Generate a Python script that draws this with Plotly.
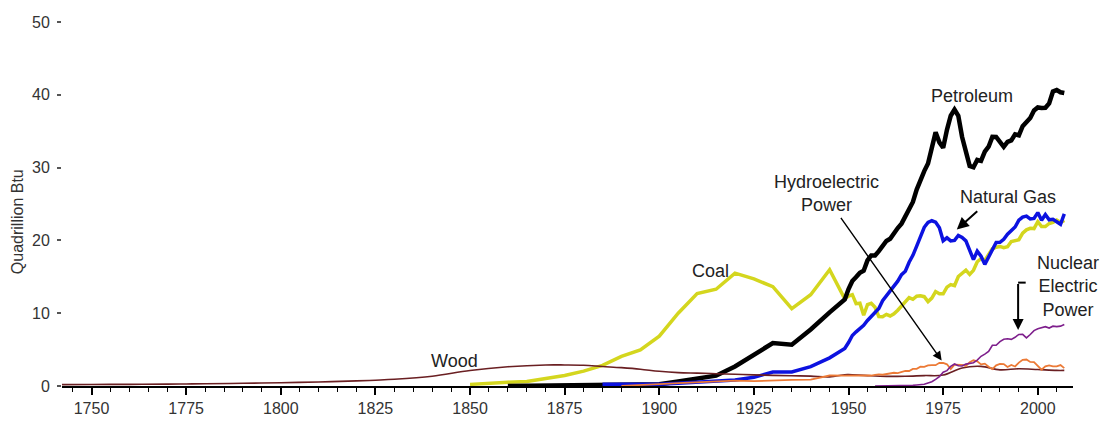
import plotly.graph_objects as go

# ---------------- data (quadrillion Btu) ----------------
wood_years = [1740, 1750, 1760, 1770, 1775, 1780, 1790, 1800, 1810, 1820, 1825, 1830, 1840, 1850,
              1860, 1870, 1875, 1880, 1885, 1890, 1895, 1900, 1905, 1910, 1915, 1920, 1925, 1930,
              1935, 1940, 1945, 1949, 1950, 1955, 1960, 1965, 1970, 1975, 1980, 1985, 1990, 1995,
              2000, 2005, 2007]
wood_vals = [0.19, 0.21, 0.23, 0.26, 0.28, 0.30, 0.37, 0.45, 0.55, 0.70, 0.80, 0.92, 1.35, 2.14,
             2.64, 2.89, 2.89, 2.85, 2.68, 2.52, 2.31, 2.02, 1.84, 1.77, 1.69, 1.61, 1.53, 1.46,
             1.40, 1.36, 1.26, 1.55, 1.56, 1.42, 1.32, 1.34, 1.43, 1.50, 2.48, 2.69, 2.22, 2.37,
             2.26, 2.14, 2.14]

early_years = [1850, 1855, 1860, 1865, 1870, 1875, 1880, 1885, 1890, 1895, 1900, 1905, 1910, 1915,
               1920, 1925, 1930, 1935, 1940, 1945]
annual_years = list(range(1949, 2008))

coal_vals = [0.22, 0.42, 0.52, 0.63, 1.05, 1.44, 2.05, 2.84, 4.06, 4.95, 6.84, 10.00, 12.71, 13.29,
             15.50, 14.71, 13.64, 10.63, 12.54, 15.97,
             11.98, 12.35, 12.55, 11.31, 11.37, 9.72, 11.17, 11.35, 10.82, 9.53, 9.52, 9.84, 9.62,
             9.91, 10.41, 10.96, 11.58, 12.14, 11.91, 12.33, 12.38, 12.27, 11.60, 12.08, 12.97,
             12.66, 12.66, 13.58, 13.92, 13.77, 15.04, 15.42, 15.91, 15.32, 15.89, 17.07, 17.48,
             17.26, 18.01, 18.85, 19.07, 19.17, 18.99, 19.12, 19.84, 19.91, 20.09, 21.00, 21.45,
             21.66, 21.62, 22.58, 21.91, 21.90, 22.32, 22.47, 22.80, 22.45, 22.75]

pet_years = [1860, 1865, 1870, 1875, 1880, 1885, 1890, 1895, 1900, 1905, 1910, 1915, 1920, 1925,
             1930, 1935, 1940, 1945] + annual_years
pet_vals = [0.00, 0.02, 0.01, 0.02, 0.10, 0.04, 0.16, 0.17, 0.23, 0.61, 1.01, 1.42, 2.68, 4.28,
            5.90, 5.68, 7.76, 10.11,
            11.88, 13.32, 14.43, 14.96, 15.56, 15.84, 17.26, 17.94, 17.93, 18.53, 19.32, 19.92,
            20.22, 21.05, 21.70, 22.30, 23.25, 24.40, 25.28, 26.98, 28.34, 29.52, 30.56, 32.95,
            34.84, 33.46, 32.73, 35.18, 37.12, 37.97, 37.12, 34.20, 31.93, 30.23, 30.05, 31.05,
            30.92, 32.20, 32.87, 34.22, 34.21, 33.55, 32.85, 33.53, 33.74, 34.56, 34.44, 35.68,
            36.16, 36.82, 37.84, 38.26, 38.19, 38.22, 38.81, 40.45, 40.65, 40.35, 40.25]

gas_years = [1885, 1890, 1895, 1900, 1905, 1910, 1915, 1920, 1925, 1930, 1935, 1940, 1945] + annual_years
gas_vals = [0.25, 0.26, 0.15, 0.25, 0.37, 0.54, 0.67, 0.81, 1.19, 1.93, 1.92, 2.67, 3.87,
            5.15, 5.97, 6.94, 7.44, 7.84, 8.34, 9.00, 9.61, 10.19, 10.66, 11.72, 12.39, 12.93,
            13.73, 14.40, 15.29, 15.77, 17.00, 17.95, 19.21, 20.68, 21.80, 22.47, 22.70, 22.51,
            21.73, 19.95, 20.35, 19.93, 20.00, 20.67, 20.39, 19.93, 18.51, 17.36, 18.51, 17.83,
            16.71, 17.74, 18.55, 19.71, 19.73, 20.15, 20.84, 21.35, 21.84, 22.78, 23.20, 23.33,
            22.94, 23.01, 23.82, 22.77, 23.56, 22.83, 22.91, 22.56, 22.22, 23.63]

hydro_years = [1890, 1895, 1900, 1905, 1910, 1915, 1920, 1925, 1930, 1935, 1940, 1945] + annual_years
hydro_vals = [0.02, 0.09, 0.25, 0.39, 0.54, 0.66, 0.74, 0.67, 0.79, 0.83, 0.88, 1.44,
              1.43, 1.42, 1.42, 1.47, 1.41, 1.36, 1.36, 1.44, 1.52, 1.59, 1.55, 1.61, 1.66, 1.82,
              1.77, 1.89, 2.06, 2.06, 2.35, 2.35, 2.65, 2.63, 2.82, 2.86, 2.86, 3.18, 3.16, 2.98,
              2.33, 2.94, 2.93, 2.90, 2.76, 3.27, 3.53, 3.39, 2.97, 3.07, 2.64, 2.33, 2.84, 3.05,
              3.02, 2.62, 2.89, 2.68, 3.21, 3.59, 3.64, 3.30, 3.27, 2.81, 2.24, 2.69, 2.83, 2.69,
              2.70, 2.87, 2.45]

nuc_years = [1957, 1960, 1965, 1966, 1967, 1968, 1969, 1970, 1971, 1972, 1973, 1974, 1975, 1976,
             1977, 1978, 1979, 1980, 1981, 1982, 1983, 1984, 1985, 1986, 1987, 1988, 1989, 1990,
             1991, 1992, 1993, 1994, 1995, 1996, 1997, 1998, 1999, 2000, 2001, 2002, 2003, 2004,
             2005, 2006, 2007]
nuc_vals = [0.00, 0.01, 0.04, 0.06, 0.09, 0.14, 0.15, 0.24, 0.41, 0.58, 0.91, 1.27, 1.90, 2.11,
            2.70, 3.02, 2.78, 2.74, 3.01, 3.13, 3.20, 3.55, 4.08, 4.38, 4.75, 5.59, 5.60, 6.10,
            6.42, 6.48, 6.41, 6.69, 7.08, 7.09, 6.60, 7.07, 7.61, 7.86, 8.03, 8.15, 7.96, 8.22,
            8.16, 8.22, 8.46]

coal_years = early_years + annual_years

x_ticks = [1750, 1775, 1800, 1825, 1850, 1875, 1900, 1925, 1950, 1975, 2000]
y_ticks = [0, 10, 20, 30, 40, 50]

# ---------------- figure ----------------
FONT = "Arial, Liberation Sans, sans-serif"
fig = go.Figure()

fig.add_trace(go.Scatter(x=coal_years, y=coal_vals, mode="lines", name="Coal",
                         line=dict(color="#d4d61e", width=3.5)))
fig.add_trace(go.Scatter(x=pet_years, y=pet_vals, mode="lines", name="Petroleum",
                         line=dict(color="#000000", width=4.5)))
fig.add_trace(go.Scatter(x=gas_years, y=gas_vals, mode="lines", name="Natural Gas",
                         line=dict(color="#0c12e0", width=3.5)))
fig.add_trace(go.Scatter(x=wood_years, y=wood_vals, mode="lines", name="Wood", line_shape="spline",
                         line=dict(color="#6a1f22", width=1.6)))
fig.add_trace(go.Scatter(x=hydro_years, y=hydro_vals, mode="lines", name="Hydroelectric Power",
                         line=dict(color="#ec7a36", width=1.8)))
fig.add_trace(go.Scatter(x=nuc_years, y=nuc_vals, mode="lines", name="Nuclear Electric Power",
                         line=dict(color="#7e1f8c", width=1.6)))

txt = dict(family=FONT, size=18, color="#222222")
annotations = [
    dict(x=1982.6, y=39.8, text="Petroleum", showarrow=False, font=txt),
    dict(x=1992.1, y=25.9, text="Natural Gas", showarrow=False, font=txt),
    dict(x=1944.2, y=26.4, text="Hydroelectric<br>Power", showarrow=False, font=txt),
    dict(x=1913.4, y=15.8, text="Coal", showarrow=False, font=txt),
    dict(x=1846.0, y=3.5, text="Wood", showarrow=False, font=txt),
    dict(x=2007.9, y=13.6, text="Nuclear<br>Electric<br>Power", showarrow=False, font=txt),
    # arrows
    dict(x=1978.6, y=21.5, ax=1984.4, ay=24.2, axref="x", ayref="y", text="",
         showarrow=True, arrowhead=2, arrowsize=1.2, arrowwidth=2, arrowcolor="#000000"),
    dict(x=1974.6, y=3.5, ax=1947.7, ay=23.3, axref="x", ayref="y", text="",
         showarrow=True, arrowhead=2, arrowsize=1.3, arrowwidth=1.4, arrowcolor="#000000"),
    dict(x=1994.8, y=7.7, ax=1994.8, ay=14.2, axref="x", ayref="y", text="",
         showarrow=True, arrowhead=2, arrowsize=1.1, arrowwidth=2, arrowcolor="#000000"),
]
for a in annotations:
    a.setdefault("xref", "x")
    a.setdefault("yref", "y")
    a.setdefault("xanchor", "center")
    a.setdefault("yanchor", "middle")

# y-axis title (placed slightly below the axis middle, as in the original)
annotations.append(dict(xref="paper", yref="paper", x=0, y=0.45, xshift=-45,
                        xanchor="center", yanchor="middle", textangle=-90, showarrow=False,
                        text="Quadrillion Btu", font=dict(family=FONT, size=16, color="#333333")))

fig.update_layout(
    width=1107, height=421,
    margin=dict(l=62, r=34, t=22, b=35, autoexpand=False),
    paper_bgcolor="white", plot_bgcolor="white",
    showlegend=False,
    annotations=annotations,
    shapes=[dict(type="line", xref="x", yref="y", x0=1994.8, y0=14.2, x1=1996.8, y1=14.2,
                 line=dict(color="#000000", width=2))],
    font=dict(family=FONT, color="#333333"),
)
fig.update_xaxes(
    range=[1742.2, 2009.3], showgrid=False, zeroline=False, automargin=False,
    showline=True, linecolor="#000000", linewidth=1.5,
    tickmode="array", tickvals=x_ticks, ticktext=[str(t) for t in x_ticks],
    ticks="outside", ticklen=7, tickwidth=1.5, tickcolor="#000000",
    tickfont=dict(family=FONT, size=16, color="#333333"),
    minor=dict(dtick=5, tick0=1750, ticks="outside", ticklen=4, tickwidth=1.2, tickcolor="#000000"),
)
fig.update_yaxes(
    range=[0, 50], showgrid=False, zeroline=False, showline=False, automargin=False,
    tickmode="array", tickvals=y_ticks, ticktext=[str(t) for t in y_ticks],
    ticks="outside", ticklen=4, tickwidth=1.5, tickcolor="#555555",
    ticklabelstandoff=4,
    tickfont=dict(family=FONT, size=16, color="#333333"),
)

fig.write_html("out.html", config={"displayModeBar": False},
               post_script="document.body.style.margin='0px';")
